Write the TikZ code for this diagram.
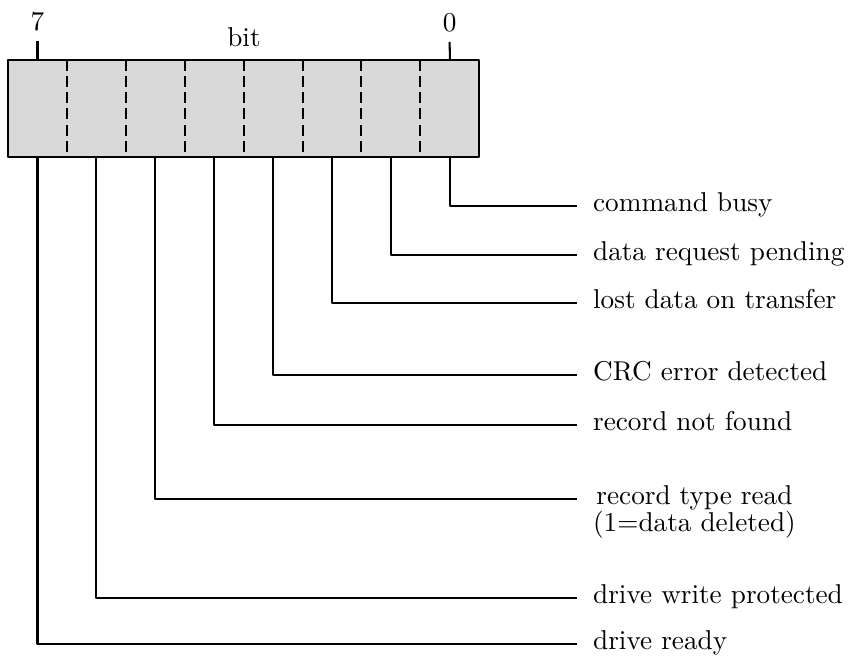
\documentclass[tikz,border=0pt]{standalone}
\begin{document}
\begin{tikzpicture}[x=0.3968pt,y=-0.3968pt,line join=round,line width=.8pt,font=\fontsize{10.8}{13}\selectfont,
    cell/.style={minimum width=23.37pt,minimum height=38.5pt,inner sep=0pt,outer sep=0pt},
    lbl/.style={anchor=mid west,inner xsep=6pt,inner ysep=0pt},
    divider/.style={dash pattern=on 4.4pt off 2pt}]
                \useasboundingbox (0,0) rectangle (848,655);
                \def\w{58.9}
                \path (37.5,108.5)node[cell](c7){}++(\w,0)node[cell](c6){}++(\w,0)node[cell](c5){}++(\w,0)node[cell](c4){}
                ++(\w,0)node[cell](c3){}++(\w,0)node[cell](c2){}++(\w,0)node[cell](c1){}++(\w,0)node[cell](c0){};
                \draw[fill=black!15](c7.north west)rectangle(c0.south east);
                \draw[divider](c7.north east)--(c7.south east);
                \draw[divider](c6.north east)--(c6.south east);
                \draw[divider](c5.north east)--(c5.south east);
                \draw[divider](c4.north east)--(c4.south east);
                \draw[divider](c3.north east)--(c3.south east);
                \draw[divider](c2.north east)--(c2.south east);
                \draw[divider](c1.north east)--(c1.south east);
                \path (37.5,22)node(t7){7}
                (449.6,23)node(t0){0}
                (244,37.5)node(bit){bit};
                \draw(c7.north)--(t7);
                \draw(c0.north)--(t0);
                \path (577,206)node[lbl](l0){command busy}
                (577,255)node[lbl](l1){data request pending}
                (577,303)node[lbl](l2){lost data on transfer}
                (577,375)node[lbl](l3){CRC error detected}
                (577,425)node[lbl](l4){record not found}
                (577,499)node[lbl](l5){\renewcommand\arraystretch{0.72}\begin{tabular}[t]{@{}c@{}}record type read\\(1=data deleted)\end{tabular}}
                (577,598)node[lbl](l6){drive write protected}
                (577,644)node[lbl](l7){drive ready}
                ;
                \draw(c0.south)|-(l0.mid west);
                \draw(c1.south)|-(l1.mid west);
                \draw(c2.south)|-(l2.mid west);
                \draw(c3.south)|-(l3.mid west);
                \draw(c4.south)|-(l4.mid west);
                \draw(c5.south)|-(l5.mid west);
                \draw(c6.south)|-(l6.mid west);
                \draw(c7.south)|-(l7.mid west);
            \end{tikzpicture}
\end{document}
